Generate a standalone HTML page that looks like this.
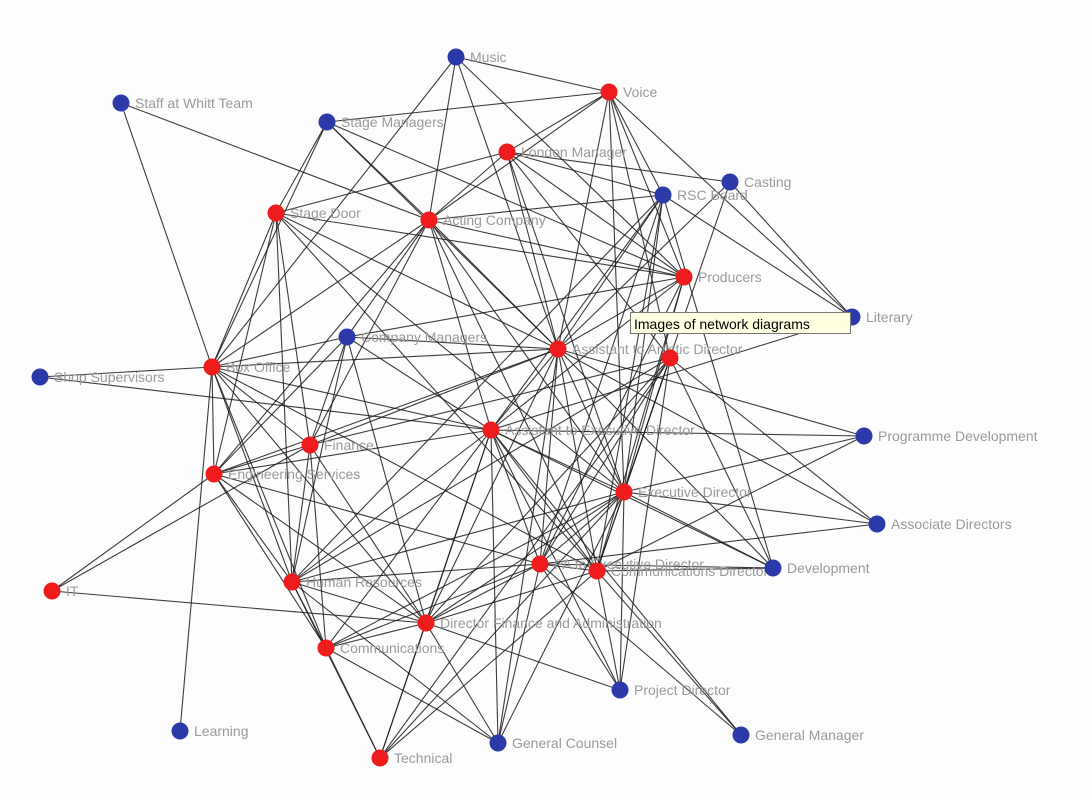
<!DOCTYPE html>
<html><head><meta charset="utf-8">
<style>
html,body{margin:0;padding:0;background:#fff;}
#wrap{position:relative;width:1092px;height:800px;overflow:hidden;background:#fdfdfd;}
svg{position:absolute;left:0;top:0;}
.lbl{font-family:"Liberation Sans",sans-serif;font-size:14px;fill:#9a9a9a;}
#tip{position:absolute;left:630px;top:312px;width:221px;height:22px;background:#ffffe1;border:1px solid #777;font-family:"Liberation Sans",sans-serif;font-size:14px;line-height:22px;padding-left:3px;box-sizing:border-box;color:#000;}
</style></head><body>
<div id="wrap">
<svg id="s" width="1092" height="800" xmlns="http://www.w3.org/2000/svg">
<g id="edges" stroke="#1a1a1a" stroke-width="1.1" stroke-opacity="0.85"></g>
<g id="labels">
<text class="lbl" x="470" y="62">Music</text>
<text class="lbl" x="623" y="97">Voice</text>
<text class="lbl" x="135" y="108">Staff at Whitt Team</text>
<text class="lbl" x="341" y="127">Stage Managers</text>
<text class="lbl" x="521" y="157">London Manager</text>
<text class="lbl" x="744" y="187">Casting</text>
<text class="lbl" x="677" y="200">RSC Board</text>
<text class="lbl" x="290" y="218">Stage Door</text>
<text class="lbl" x="443" y="225">Acting Company</text>
<text class="lbl" x="698" y="282">Producers</text>
<text class="lbl" x="866" y="322">Literary</text>
<text class="lbl" x="361" y="342">Company Managers</text>
<text class="lbl" x="572" y="354">Assistant to Artistic Director</text>
<text class="lbl" x="54" y="382">Shop Supervisors</text>
<text class="lbl" x="226" y="372">Box Office</text>
<text class="lbl" x="505" y="435">Assistant to Executive Director</text>
<text class="lbl" x="878" y="441">Programme Development</text>
<text class="lbl" x="324" y="450">Finance</text>
<text class="lbl" x="228" y="479">Engineering Services</text>
<text class="lbl" x="638" y="497">Executive Director</text>
<text class="lbl" x="891" y="529">Associate Directors</text>
<text class="lbl" x="554" y="569">PA to Executive Director</text>
<text class="lbl" x="611" y="576">Communications Director</text>
<text class="lbl" x="787" y="573">Development</text>
<text class="lbl" x="306" y="587">Human Resources</text>
<text class="lbl" x="66" y="596">IT</text>
<text class="lbl" x="440" y="628">Director Finance and Administration</text>
<text class="lbl" x="340" y="653">Communications</text>
<text class="lbl" x="634" y="695">Project Director</text>
<text class="lbl" x="194" y="736">Learning</text>
<text class="lbl" x="755" y="740">General Manager</text>
<text class="lbl" x="512" y="748">General Counsel</text>
<text class="lbl" x="394" y="763">Technical</text>
</g>
<g id="nodes"></g>
</svg>
<div id="tip">Images of network diagrams</div>
</div>
<script>
var N={Mu:[456,57,'b'],Vo:[609,92,'r'],St:[121,103,'b'],SM:[327,122,'b'],LM:[507,152,'r'],Ca:[730,182,'b'],RB:[663,195,'b'],SD:[276,213,'r'],AC:[429,220,'r'],Pr:[684,277,'r'],Li:[852,317,'b'],CM:[347,337,'b'],AA:[558,349,'r'],X:[670,358,'r'],SS:[40,377,'b'],BO:[212,367,'r'],AE:[491,430,'r'],PD:[864,436,'b'],Fi:[310,445,'r'],ES:[214,474,'r'],ED:[624,492,'r'],AsD:[877,524,'b'],PA:[540,564,'r'],CD:[597,571,'r'],De:[773,568,'b'],HR:[292,582,'r'],IT:[52,591,'r'],DF:[426,623,'r'],Co:[326,648,'r'],PjD:[620,690,'b'],Le:[180,731,'b'],GM:[741,735,'b'],GC:[498,743,'b'],Te:[380,758,'r']};
var E="St-BO St-AC Mu-Vo Mu-AC Mu-AA Mu-Pr Vo-LM Vo-AC Vo-RB Vo-Pr Vo-AA Vo-ED Vo-Li Vo-SM SM-SD SM-AC SM-BO SM-AA SM-Pr LM-RB LM-Ca LM-AA LM-ED LM-SD LM-AC LM-Pr Ca-ED Ca-AA Ca-Li RB-AE RB-ED RB-AA RB-PA RB-CD RB-AC RB-De SD-BO SD-ES SD-Fi SD-HR SD-AA SD-ED SD-Pr SD-CD AC-BO AC-CM AC-Pr AC-AA AC-AE AC-ED AC-Fi AC-ES AC-CD Pr-AA Pr-ED Pr-AE Pr-PA Pr-CD Pr-CM CM-BO CM-Fi CM-ES CM-AA CM-AE CM-DF CM-HR AA-BO AA-AE AA-ED AA-PA AA-CD AA-PD AA-AsD AA-Fi AA-DF AA-GC AA-ES X-ED X-PA X-CD X-PjD X-De X-HR SS-BO SS-AE BO-ES BO-Fi BO-HR BO-Le BO-DF BO-AE BO-CD BO-Co AE-ED AE-PA AE-CD AE-DF AE-HR AE-Co AE-GC AE-Te AE-PjD AE-GM AE-De AE-ES AE-PD Fi-HR Fi-DF Fi-Co Fi-ES ES-IT ES-HR ES-Co ES-PA ES-DF IT-DF IT-Fi ED-PA ED-CD ED-De ED-AsD ED-PD ED-DF ED-HR ED-PjD ED-GC ED-Co PA-CD PA-HR PA-DF PA-De PA-GC PA-PjD PA-Co CD-De CD-DF CD-PjD CD-GM CD-Te HR-DF HR-Co HR-Te HR-GC DF-Co DF-Te DF-GC DF-PjD Co-Te Co-GC PD-CD AsD-PA De-AA GM-PA Te-ED Li-AE RB-Li X-AsD X-Te Vo-X Mu-BO LM-X X-Fi X-DF RB-HR";
var ns="http://www.w3.org/2000/svg",eg=document.getElementById('edges'),ng=document.getElementById('nodes');
E.split(' ').forEach(function(p){var a=N[p.split('-')[0]],b=N[p.split('-')[1]];if(!a||!b)return;var l=document.createElementNS(ns,'line');l.setAttribute('x1',a[0]);l.setAttribute('y1',a[1]);l.setAttribute('x2',b[0]);l.setAttribute('y2',b[1]);eg.appendChild(l);});
for(var k in N){var n=N[k],c=document.createElementNS(ns,'circle');c.setAttribute('cx',n[0]);c.setAttribute('cy',n[1]);c.setAttribute('r',8.5);c.setAttribute('fill',n[2]=='r'?'#ee1c1c':'#2b3aa8');ng.appendChild(c);}
</script>
</body></html>
